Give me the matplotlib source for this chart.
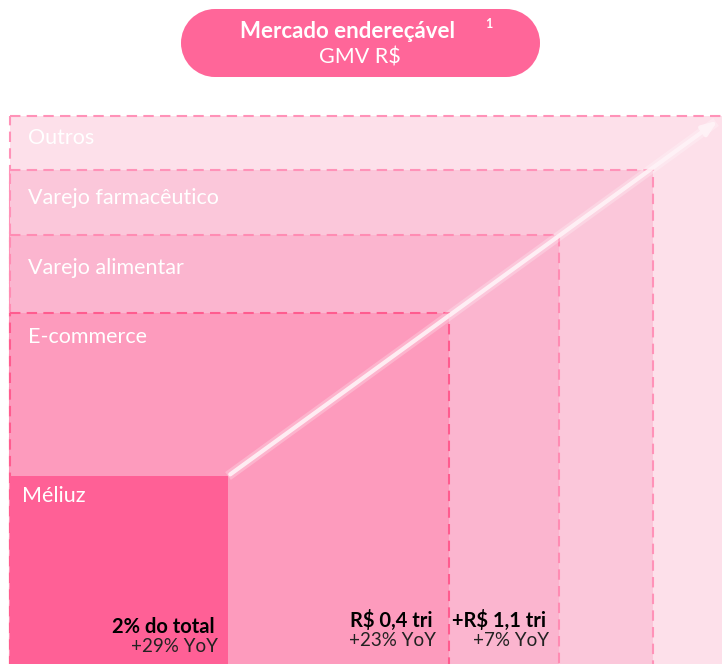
import matplotlib.pyplot as plt
from matplotlib.patches import Rectangle, Circle

# segments of the addressable market, largest first
segments = ["Outros", "Varejo farmacêutico", "Varejo alimentar", "E-commerce", "Méliuz"]
seg_right = [730, 653, 559, 449, 228]   # right edge of each block (px)
seg_top = [116, 170, 235, 313, 476]     # top edge of each block (px)
seg_fill = ["#fde0ea", "#fbc7da", "#fbb5cf", "#fd9bbd", "#ff6096"]
seg_edge = ["#ff92b8", "#ff92b8", "#ff8cb3", "#ff5c8f", None]
label_dy = [22, 28, 33, 24, 20]

# value annotations at the bottom
ann_main = ["2% do total", "R$ 0,4 tri", "+R$ 1,1 tri"]
ann_sub = ["+29% YoY", "+23% YoY", "+7% YoY"]
ann_x = [215, 433, 546]
ann_y = [627, 620, 620]

x0 = 10
W, H = 722, 664

plt.rcParams['font.family'] = ['Lato', 'DejaVu Sans']
fig = plt.figure(figsize=(W / 100, H / 100), dpi=100)
ax = fig.add_axes([0, 0, 1, 1])
ax.set_xlim(0, W)
ax.set_ylim(H, 0)
ax.axis("off")

for name, r, t, fc, ec, dy in zip(segments, seg_right, seg_top, seg_fill, seg_edge, label_dy):
    if ec is None:
        ax.add_patch(Rectangle((x0, t), r - x0, H + 20 - t, facecolor=fc, edgecolor="none"))
    else:
        ax.add_patch(Rectangle((x0, t), r - x0, H + 20 - t, facecolor=fc,
                               edgecolor=ec, linewidth=1.5, linestyle=(0, (5, 3))))
    lx = 22 if name == "Méliuz" else 28
    ax.text(lx, t + dy, name, color="white", fontsize=15.5, va="center")

# growth arrow with soft glow
ax.plot([228, 716], [476, 122], color="white", lw=7, alpha=0.25, solid_capstyle="butt")
ax.annotate("", xy=(720, 119), xytext=(228, 476),
            arrowprops=dict(arrowstyle="-|>,head_length=0.9,head_width=0.35",
                            color="#fff3f7", lw=3, alpha=0.9))

for m, s, x, y in zip(ann_main, ann_sub, ann_x, ann_y):
    ax.text(x, y, m, ha="right", va="center", fontsize=14.5, fontweight="bold", color="black")
    ax.text(x + 3, y + 20, s, ha="right", va="center", fontsize=13.5, color="#222222")

# title pill
pc = "#ff6699"
ax.add_patch(Rectangle((215, 9), 291, 68, facecolor=pc, edgecolor="none"))
ax.add_patch(Circle((215, 43), 34, facecolor=pc, edgecolor="none"))
ax.add_patch(Circle((506, 43), 34, facecolor=pc, edgecolor="none"))
ax.text(348, 31, "Mercado endereçável", ha="center", va="center", color="white",
        fontsize=16, fontweight="bold")
ax.text(489, 24, "1", ha="center", va="center", color="white", fontsize=9, fontweight="bold")
ax.text(360, 57, "GMV R$", ha="center", va="center", color="white", fontsize=15.5)

fig.savefig("out.png", dpi=100)
